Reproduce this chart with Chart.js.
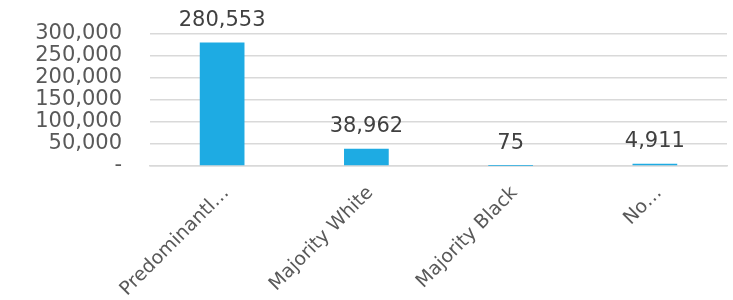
<!DOCTYPE html>
<html>
<head>
<meta charset="utf-8">
<script src="https://cdn.jsdelivr.net/npm/chart.js@4"></script>
<style>
  html, body { margin: 0; padding: 0; background: #fff; }
  #wrap { width: 733px; height: 300px; }
</style>
</head>
<body>
<div id="wrap"><canvas id="chart"></canvas></div>
<script>
// données
const categories = ['Predominantl…', 'Majority White', 'Majority Black', 'No…'];
const valeurs = [280553, 38962, 75, 4911];
const yTicks = [0, 50000, 100000, 150000, 200000, 250000, 300000];

const police = '"DejaVu Sans", sans-serif';

// étiquettes au-dessus des barres
const etiquettesPlugin = {
    id: 'etiquettes',
    afterDatasetsDraw(chart) {
        const ctx = chart.ctx;
        const meta = chart.getDatasetMeta(0);
        ctx.save();
        ctx.font = '21px ' + police;
        ctx.fillStyle = '#404040';
        ctx.textAlign = 'center';
        ctx.textBaseline = 'alphabetic';
        meta.data.forEach((bar, i) => {
            ctx.fillText(valeurs[i].toLocaleString('en-US'), bar.x, bar.y - 17);
        });
        ctx.restore();
    }
};

new Chart(document.getElementById('chart'), {
    type: 'bar',
    data: {
        labels: categories,
        datasets: [{
            data: valeurs,
            backgroundColor: '#1eabe3',
            barPercentage: 0.62,
            categoryPercentage: 0.5
        }]
    },
    options: {
        responsive: true,
        maintainAspectRatio: false,
        animation: false,
        layout: { padding: { top: 34, right: 6, bottom: 0, left: 0 } },
        plugins: { legend: { display: false }, tooltip: { enabled: false } },
        scales: {
            x: {
                grid: { display: false, drawTicks: false },
                border: { color: '#d9d9d9', width: 1.5 },
                ticks: {
                    color: '#595959',
                    font: { size: 19, family: police },
                    maxRotation: 45,
                    minRotation: 45,
                    autoSkip: false,
                    labelOffset: 4,
                    padding: 16
                },
                afterFit(scale) { scale.height = 134; }
            },
            y: {
                min: 0,
                max: 300000,
                afterBuildTicks(scale) { scale.ticks = yTicks.map(v => ({ value: v })); },
                grid: { color: '#d9d9d9', lineWidth: 1.5, drawTicks: false },
                border: { display: false },
                ticks: {
                    color: '#595959',
                    font: { size: 21, family: police },
                    padding: 28,
                    autoSkip: false,
                    callback: v => v === 0 ? '-' : v.toLocaleString('en-US')
                },
                afterFit(scale) {
                    scale.width = 150;
                    scale.paddingTop = 0; // sinon le padding des ticks pousse la zone vers le bas
                    scale.paddingBottom = 0;
                }
            }
        }
    },
    plugins: [etiquettesPlugin]
});
</script>
</body>
</html>
